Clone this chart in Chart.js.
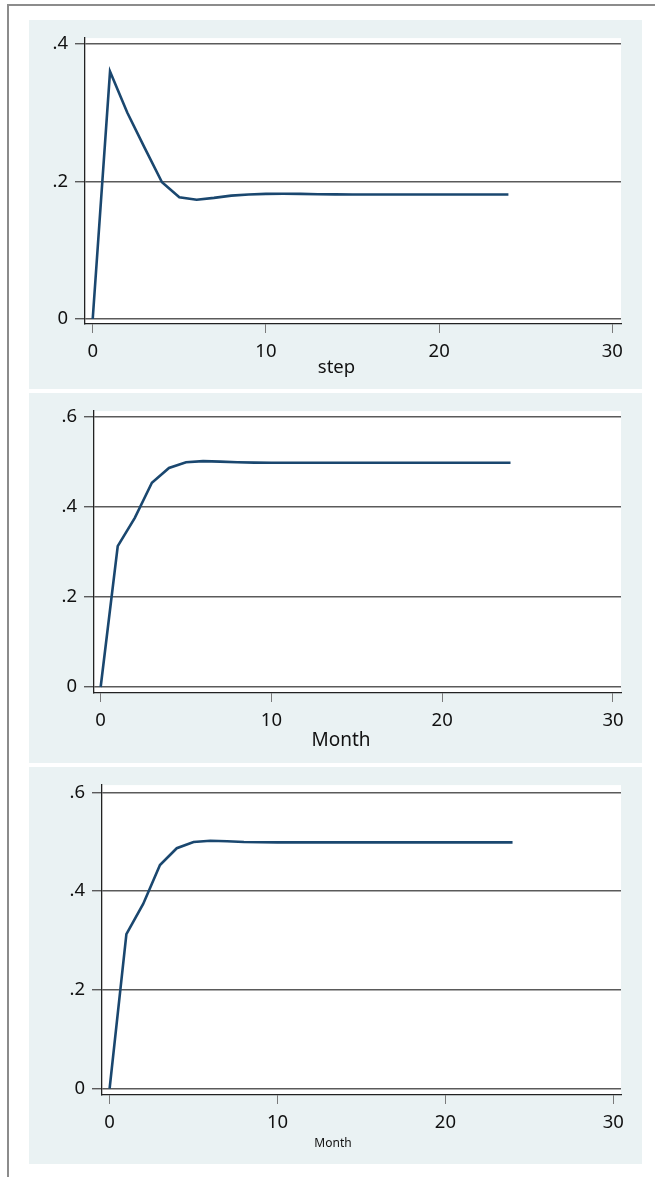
<!DOCTYPE html>
<html>
<head>
<meta charset="utf-8">
<script src="https://cdn.jsdelivr.net/npm/chart.js@4.4.1/dist/chart.umd.min.js"></script>
<style>
  body { margin: 0; width: 655px; height: 1177px; background: #fff; position: relative; overflow: hidden; }
  #frame { position: absolute; left: 7px; top: 4px; right: -3px; bottom: -3px;
           border-top: 2px solid #8c8c8c; border-left: 2px solid #8c8c8c; }
  .panel { position: absolute; left: 29px; width: 613px; background: #eaf2f3; }
  .panel canvas { display: block; }
</style>
</head>
<body>
<div id="frame"></div>
<div class="panel" style="top:20px;height:369px"><canvas id="c1" width="613" height="369"></canvas></div>
<div class="panel" style="top:393px;height:370px"><canvas id="c2" width="613" height="370"></canvas></div>
<div class="panel" style="top:767px;height:397px"><canvas id="c3" width="613" height="397"></canvas></div>

<script>
// horizon 0..24
const steps = [0, 1, 2, 3, 4, 5, 6, 7, 8, 9, 10, 11, 12, 13, 14, 15, 16, 17, 18, 19, 20, 21, 22, 23, 24];

// top panel (x: step)
const stepResponse = [0, 0.360, 0.300, 0.249, 0.199, 0.177, 0.1735, 0.1762, 0.1795, 0.1812, 0.1820,
  0.1822, 0.1820, 0.1815, 0.1813, 0.1812, 0.1812, 0.1812, 0.1812, 0.1812, 0.1812, 0.1812, 0.1812, 0.1812, 0.1812];

// middle panel (x: Month)
const monthResponse = [0, 0.313, 0.376, 0.454, 0.487, 0.4995, 0.502, 0.501, 0.4995, 0.4988, 0.4985,
  0.4985, 0.4985, 0.4985, 0.4985, 0.4985, 0.4985, 0.4985, 0.4985, 0.4985, 0.4985, 0.4985, 0.4985, 0.4985, 0.4985];

// bottom panel (x: Month, small title)
const monthResponse2 = [0, 0.313, 0.374, 0.453, 0.487, 0.4995, 0.502, 0.501, 0.4995, 0.499, 0.4988,
  0.4988, 0.4988, 0.4988, 0.4988, 0.4988, 0.4988, 0.4988, 0.4988, 0.4988, 0.4988, 0.4988, 0.4988, 0.4988, 0.4988];

const xTicks = [0, 10, 20, 30];
const yTicksA = [0, 0.2, 0.4];
const yLabelsA = ['0', '.2', '.4'];
const yTicksB = [0, 0.2, 0.4, 0.6];
const yLabelsB = ['0', '.2', '.4', '.6'];

// white plot region on the tinted panel
const plotBg = {
  id: 'plotBg',
  beforeDraw(chart) {
    const { ctx, chartArea: a } = chart;
    ctx.save();
    ctx.fillStyle = '#fff';
    ctx.fillRect(a.left, a.top, a.right - a.left, a.bottom - a.top);
    ctx.restore();
  }
};

const AXIS_H = 36; // room for tick marks + tick labels under the plot

function makePanel(id, values, yTicks, yLabels, o) {
  new Chart(document.getElementById(id), {
    type: 'line',
    data: {
      datasets: [{
        data: steps.map((s, i) => ({ x: s, y: values[i] })),
        borderColor: '#1a476f',
        borderWidth: 2.6,
        pointRadius: 0,
        tension: 0,
        fill: false
      }]
    },
    options: {
      responsive: false,
      animation: false,
      events: [],
      layout: { padding: { left: o.padLeft, right: 21, top: o.top, bottom: 0 } },
      plugins: {
        legend: { display: false },
        tooltip: { enabled: false },
        title: {
          display: true, position: 'bottom', text: o.title, color: '#111',
          font: { family: 'Noto Sans', size: o.titleSize, weight: 'normal', lineHeight: o.titleLine + 'px' },
          padding: { top: 0, bottom: o.titlePad }
        }
      },
      scales: {
        x: {
          type: 'linear',
          min: o.xMin, max: o.xMax,
          afterFit: s => { s.height = AXIS_H; },
          afterBuildTicks: s => { s.ticks = xTicks.map(v => ({ value: v })); },
          grid: { drawOnChartArea: false, drawTicks: true, tickLength: 9, color: '#7a7a7a', lineWidth: 1 },
          border: { display: true, color: '#222', width: 1.3 },
          ticks: { padding: 8, color: '#111', maxRotation: 0, font: { family: 'Noto Sans', size: 18.5 } }
        },
        y: {
          min: o.yMin, max: o.yMax,
          afterFit: s => { s.width = o.left - o.padLeft; },
          afterBuildTicks: s => { s.ticks = yTicks.map(v => ({ value: v })); },
          grid: { drawTicks: true, tickLength: 10, color: '#5a5a5a', lineWidth: 1.4 },
          border: { display: true, color: '#222', width: 1.3 },
          ticks: { padding: 7, color: '#111', font: { family: 'Noto Sans', size: 18.5 },
                   callback: (v, i) => yLabels[i] }
        }
      }
    },
    plugins: [plotBg]
  });
}

makePanel('c1', stepResponse, yTicksA, yLabelsA, {
  left: 56, padLeft: 23, top: 17,
  xMin: -0.445, xMax: 30.5, yMin: -0.0073, yMax: 0.4087,
  title: 'step', titleSize: 18.5, titleLine: 15, titlePad: 14
});

makePanel('c2', monthResponse, yTicksB, yLabelsB, {
  left: 65, padLeft: 32, top: 18,
  xMin: -0.39, xMax: 30.47, yMin: -0.0133, yMax: 0.6133,
  title: 'Month', titleSize: 19, titleLine: 24, titlePad: 10
});

makePanel('c3', monthResponse2, yTicksB, yLabelsB, {
  left: 73, padLeft: 16, top: 18,
  xMin: -0.453, xMax: 30.46, yMin: -0.0128, yMax: 0.6148,
  title: 'Month', titleSize: 12, titleLine: 25, titlePad: 8
});
</script>
</body>
</html>
